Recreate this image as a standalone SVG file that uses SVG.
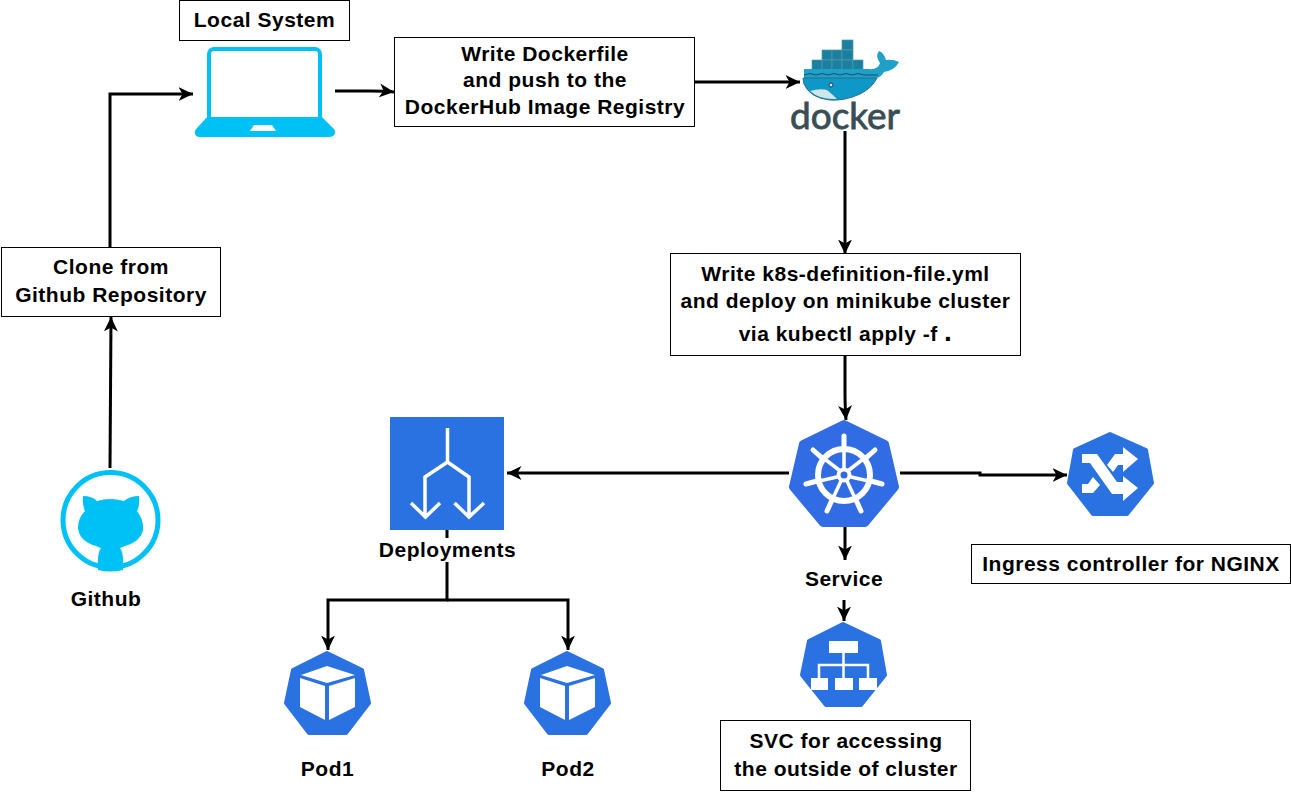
<svg xmlns="http://www.w3.org/2000/svg" width="1291" height="792" viewBox="0 0 1291 792">
<style>
.box{fill:#fff;stroke:#000;stroke-width:1}
.t{font-family:"Liberation Sans",Arial,sans-serif;font-weight:700;font-size:21px;letter-spacing:.5px;fill:#000;text-anchor:middle}
.c{fill:none;stroke:#000;stroke-width:3;marker-end:url(#a)}
.k{fill:#2a72e2}
.w{fill:#fff}
.ws{fill:none;stroke:#fff;stroke-linecap:round}
.cy{fill:#00c1f5}
</style>
<defs>
<marker id="a" markerUnits="userSpaceOnUse" markerWidth="16" markerHeight="16" refX="14.5" refY="7.5" orient="auto"><path d="M0,0.5 L14.5,7.5 L0,14.5 L4,7.5Z" fill="#000"/></marker>
</defs>
<rect width="1291" height="792" fill="#fff"/>
<g id="connectors">
<path class="c" d="M110,468 C110.500,420 110.500,370 111,317"/>
<path class="c" d="M110,247 V94 H193"/>
<path class="c" d="M335,91 H370 Q385,91 394,92"/>
<path class="c" d="M695,82 H800"/>
<path class="c" d="M845,131 V254"/>
<path class="c" d="M845,356 V395 Q845,405 846,420"/>
<path class="c" d="M789,473 H507"/>
<path class="c" d="M900,473 H980 V475 H1067"/>
<path class="c" d="M845,527 V560"/>
<path class="c" d="M844,600 V621"/>
<path class="c" d="M447,530 V600 H328 V650"/>
<path class="c" d="M447,600 H568 V650"/>
</g>
<g id="local-system"><rect class="box" x="179.500" y="0.500" width="170" height="40"/><text class="t" x="264.500" y="27">Local System</text></g>
<g id="laptop">
<rect x="209" y="49" width="111" height="72" rx="5" fill="none" stroke="#00c1f5" stroke-width="4"/>
<path class="cy" fill-rule="evenodd" d="M207,117 H322 L333,128 Q336,131 335,133 Q334,137 329,137 H200 Q195,137 195,133 Q194,131 197,128Z M254,125 L250,131 H276 L272,125Z"/>
</g>
<g id="write-dockerfile"><rect class="box" x="394.500" y="37.500" width="300" height="89"/><text class="t" x="545" y="61">Write Dockerfile</text><text class="t" x="545" y="87">and push to the</text><text class="t" x="545" y="114">DockerHub Image Registry</text></g>
<g id="docker">
<g fill="#1d7f9e" stroke="#4d9bb3" stroke-width="0.700">
<rect x="842" y="40" width="11" height="10"/>
<rect x="822" y="50" width="10" height="10"/><rect x="832" y="50" width="10" height="10"/><rect x="842" y="50" width="11" height="10"/>
<rect x="812" y="60" width="10" height="10"/><rect x="822" y="60" width="10" height="10"/><rect x="832" y="60" width="10" height="10"/><rect x="842" y="60" width="11" height="10"/><rect x="853" y="60" width="10" height="10"/>
</g>
<path fill="#1fa0c9" d="M804,69 H869 Q878,70 880,63 Q875,56 879,51 Q884,53 886,60 Q893,59 899,62 Q895,70 884,72 Q880,78 876,78 H804Z"/>
<path fill="#0e98c8" stroke="#2d6d86" stroke-width="1" d="M803,78 H877 Q872,88 860,94 Q845,101 830,100 Q810,98 804,84Z"/>
<path fill="#cfe6e8" d="M810,91 Q820,88 827,90 Q833,95 837,99 Q820,100 810,91Z"/>
<path fill="none" stroke="#0f4d66" stroke-width="1" d="M804,75 Q810,72 816,75 Q822,72 828,75 Q834,72 840,75 Q846,72 852,75 Q858,72 864,75 L878,75"/>
<circle cx="831" cy="85" r="2" fill="#cfe6e8" stroke="#1c3a48" stroke-width="1"/>
<text x="845" y="129" font-family="Lato,'Noto Sans',sans-serif" font-size="36" fill="#394d54" stroke="#394d54" stroke-width="0.800" text-anchor="middle" textLength="110" lengthAdjust="spacingAndGlyphs">docker</text>
</g>
<g id="clone"><rect class="box" x="1.500" y="247.500" width="219" height="69"/><text class="t" x="111" y="274">Clone from</text><text class="t" x="111" y="302">Github Repository</text></g>
<g id="write-k8s"><rect class="box" x="670.500" y="253.500" width="350" height="102"/><text class="t" x="845.500" y="281">Write k8s-definition-file.yml</text><text class="t" x="845.500" y="308">and deploy on minikube cluster</text><text class="t" x="845.500" y="341">via kubectl apply -f <tspan font-size="28">.</tspan></text></g>
<g id="kubernetes">
<path fill="#326ce5" stroke="#326ce5" stroke-width="8" stroke-linejoin="round" d="M844,424 L885,444 L895,487 L865,523 L823,523 L793,487 L803,444Z"/>
<circle cx="844" cy="475" r="26" fill="none" stroke="#fff" stroke-width="6"/>
<circle cx="844" cy="475" r="5.500" fill="#326ce5" stroke="#fff" stroke-width="4"/>
<g class="ws" stroke-width="3.500">
<path d="M844,468 V436"/><path d="M849,470 L875,450"/><path d="M851,477 L882,484"/><path d="M847,481 L861,511"/><path d="M841,481 L827,511"/><path d="M837,477 L806,484"/><path d="M839,470 L813,450"/>
</g>
<g class="ws" stroke-width="5">
<path d="M844,436 V448"/><path d="M875,450 L866,458"/><path d="M882,484 L871,481"/><path d="M861,511 L856,500"/><path d="M827,511 L832,500"/><path d="M806,484 L817,481"/><path d="M813,450 L822,458"/>
</g>
</g>
<g id="deployments">
<rect class="k" x="390" y="417" width="114" height="113"/>
<path fill="none" stroke="#fff" stroke-width="3.500" d="M447.500,428 V462 M447.500,462 L425,477 V517 M447.500,462 L469,477 V517 M411,503 L425.500,517 L440,503 M454.500,503 L469,517 L484,503"/>
<rect x="375" y="538" width="145" height="24" fill="#fff"/>
<text class="t" x="447.500" y="557">Deployments</text>
</g>
<g id="ingress">
<path class="k" stroke="#2a72e2" stroke-width="4" stroke-linejoin="round" d="M1110,434 L1146,450 L1152,483 L1127,514 L1093,514 L1069,483 L1075,450Z"/>
<path class="w" d="M1082,454 H1097 L1117,482 H1123 V476 L1138,488 L1123,501 V494 H1112 L1090,463 H1082Z"/>
<path class="w" d="M1082,484 H1088 L1093,477 L1100,485 L1093,493 H1082Z"/>
<path class="w" d="M1107,465 L1115,454 H1123 V447 L1138,459 L1123,472 V465 H1118 L1113,472Z"/>
</g>
<g id="ingress-label"><rect class="box" x="971.500" y="544.500" width="319" height="39"/><text class="t" x="1131" y="571">Ingress controller for NGINX</text></g>
<g id="service-label"><text class="t" x="844" y="586">Service</text></g>
<g id="svc">
<path class="k" stroke="#2a72e2" stroke-width="4" stroke-linejoin="round" d="M843,624 L879,641 L885,675 L861,705 L826,705 L802,675 L809,641Z"/>
<rect class="w" x="829" y="641" width="29" height="12"/>
<rect class="w" x="811" y="678" width="17" height="12"/><rect class="w" x="835" y="678" width="18" height="12"/><rect class="w" x="859" y="678" width="18" height="12"/>
<path fill="none" stroke="#fff" stroke-width="2.500" d="M843.500,653 V678 M819,678 V665 H868 V678"/>
</g>
<g id="svc-label"><rect class="box" x="720.500" y="720.500" width="250" height="70"/><text class="t" x="846" y="748">SVC for accessing</text><text class="t" x="846" y="776">the outside of cluster</text></g>
<g id="pod1">
<path class="k" stroke="#2a72e2" stroke-width="4" stroke-linejoin="round" d="M327,653 L362,670 L369,703 L346,733 L309,733 L286,703 L293,670Z"/>
<path class="w" d="M327,666 L355,675 L327,683 L301,675Z M300,678 L325,686 V720 L300,707Z M329,686 L355,678 V707 L329,720Z"/>
<text class="t" x="327.500" y="776">Pod1</text>
</g>
<g id="pod2">
<path class="k" stroke="#2a72e2" stroke-width="4" stroke-linejoin="round" d="M567,653 L602,670 L609,703 L586,733 L549,733 L526,703 L533,670Z"/>
<path class="w" d="M567,666 L595,675 L567,683 L541,675Z M540,678 L565,686 V720 L540,707Z M569,686 L595,678 V707 L569,720Z"/>
<text class="t" x="568" y="776">Pod2</text>
</g>
<g id="github">
<circle cx="110.500" cy="520" r="47.500" fill="#fff" stroke="#00c1f5" stroke-width="5"/>
<path class="cy" d="M83,496 Q92,496 97,501 Q110,497 124,501 Q130,496 139,496 Q140,506 137,511 Q144,520 143,530 Q141,541 125,546 Q123,547 120,548 Q124,552 123,570 Q110,573 98,570 Q97,552 101,548 Q98,547 96,546 Q79,541 78,528 Q78,518 85,511 Q82,505 83,496Z"/>
<text class="t" x="106" y="606">Github</text>
</g>
</svg>
